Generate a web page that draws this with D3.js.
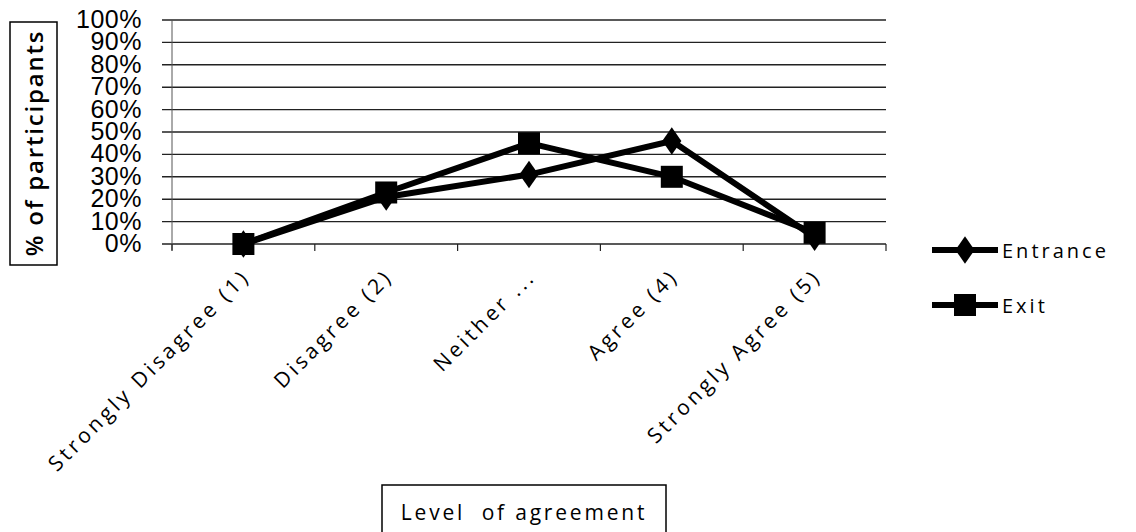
<!DOCTYPE html>
<html><head><meta charset="utf-8">
<script src="https://cdn.jsdelivr.net/npm/d3@7"></script>
<style>body{margin:0;background:#fff}svg{display:block}</style>
</head><body>
<svg id="c" width="1136" height="532"></svg>
<script>
const categories = ["Strongly Disagree (1)", "Disagree (2)", "Neither ...", "Agree (4)", "Strongly Agree (5)"];
const entrance = [0, 21, 31, 46, 3];
const exitVals = [0, 23, 45, 30, 5];
const yTicks = [0, 10, 20, 30, 40, 50, 60, 70, 80, 90, 100];
const seriesNames = ["Entrance", "Exit"];

const svg = d3.select("#c");
const L = 172, R = 886, T = 20, B = 244;
const x = d3.scaleBand().domain(categories).range([L, R]);
const y = d3.scaleLinear().domain([0, 100]).range([B, T]);

// gridlines
svg.append("g").selectAll("line").data(yTicks).join("line")
  .attr("x1", L - 10).attr("x2", R).attr("y1", d => y(d)).attr("y2", d => y(d))
  .attr("stroke", "#222").attr("stroke-width", 1.4);

// y axis line
svg.append("line").attr("x1", L).attr("x2", L).attr("y1", T).attr("y2", B + 6)
  .attr("stroke", "#555").attr("stroke-width", 1);

// x axis ticks
const tickPos = categories.map(c => x(c)).concat([R]);
svg.append("g").selectAll("line").data(tickPos).join("line")
  .attr("x1", d => d).attr("x2", d => d).attr("y1", B).attr("y2", B + 7)
  .attr("stroke", "#222").attr("stroke-width", 1.2);

// y tick labels
svg.append("g").selectAll("text").data(yTicks).join("text")
  .attr("x", 142).attr("y", d => y(d) + 8)
  .attr("text-anchor", "end")
  .attr("font-family", "Liberation Sans, Arial, sans-serif")
  .attr("font-size", 25).attr("letter-spacing", 0.5).attr("fill", "#000")
  .text(d => d + "%");

// x labels rotated
svg.append("g").selectAll("text").data(categories).join("text")
  .attr("transform", d => `translate(${x(d) + x.bandwidth() / 2 + 8},${B + 34}) rotate(-45)`)
  .attr("text-anchor", "end")
  .attr("font-family", "Open Sans, sans-serif")
  .attr("font-size", 21).attr("letter-spacing", 3.5).attr("fill", "#000")
  .text(d => d);

const cx = d => x(d) + x.bandwidth() / 2;
const line = d3.line().x((d, i) => cx(categories[i])).y(d => y(d));

svg.append("path").datum(entrance).attr("d", line)
  .attr("fill", "none").attr("stroke", "#000").attr("stroke-width", 6);
svg.append("path").datum(exitVals).attr("d", line)
  .attr("fill", "none").attr("stroke", "#000").attr("stroke-width", 6);

const diamond = d3.symbol().type(d3.symbolDiamond).size(220);
svg.append("g").selectAll("path").data(entrance).join("path")
  .attr("d", diamond)
  .attr("transform", (d, i) => `translate(${cx(categories[i])},${y(d)}) scale(1.2,1)`)
  .attr("fill", "#000");
svg.append("g").selectAll("rect").data(exitVals).join("rect")
  .attr("x", (d, i) => cx(categories[i]) - 11).attr("y", d => y(d) - 11)
  .attr("width", 22).attr("height", 22).attr("fill", "#000");

// y title box
svg.append("rect").attr("x", 10).attr("y", 22).attr("width", 47).attr("height", 243)
  .attr("fill", "none").attr("stroke", "#000").attr("stroke-width", 1.5);
svg.append("text").attr("transform", "translate(43,143) rotate(-90)")
  .attr("text-anchor", "middle")
  .attr("font-family", "Open Sans, sans-serif").attr("font-weight", 600)
  .attr("font-size", 24).attr("letter-spacing", 1.8).attr("fill", "#000")
  .text("% of participants");

// x title box
svg.append("rect").attr("x", 382).attr("y", 485).attr("width", 284).attr("height", 55)
  .attr("fill", "none").attr("stroke", "#000").attr("stroke-width", 1.5);
svg.append("text").attr("x", 524).attr("y", 520)
  .attr("text-anchor", "middle").style("white-space", "pre")
  .attr("font-family", "Open Sans, sans-serif")
  .attr("font-size", 21).attr("letter-spacing", 2.8).attr("fill", "#000")
  .text("Level  of agreement");

// legend
const lg = svg.append("g");
seriesNames.forEach((name, i) => {
  const ly = 250 + i * 55;
  lg.append("line").attr("x1", 932).attr("x2", 998).attr("y1", ly).attr("y2", ly)
    .attr("stroke", "#000").attr("stroke-width", 6);
  if (i === 0) {
    lg.append("path").attr("d", diamond)
      .attr("transform", `translate(965,${ly}) scale(1.2,1)`).attr("fill", "#000");
  } else {
    lg.append("rect").attr("x", 954).attr("y", ly - 11).attr("width", 22).attr("height", 22).attr("fill", "#000");
  }
  lg.append("text").attr("x", 1002).attr("y", ly + 8)
    .attr("font-family", "Open Sans, sans-serif")
    .attr("font-size", 20).attr("letter-spacing", 3).attr("fill", "#000")
    .text(name);
});
</script>
</body></html>
